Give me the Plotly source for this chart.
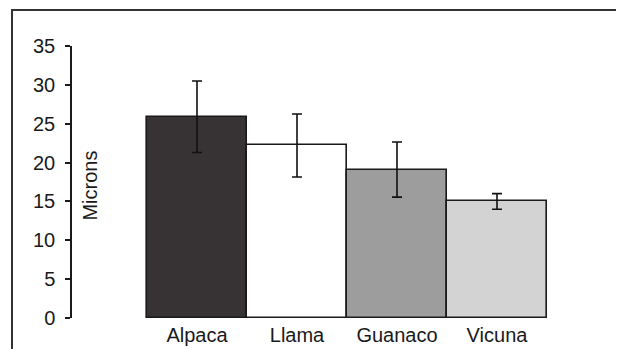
import plotly.graph_objects as go

categories = ["Alpaca", "Llama", "Guanaco", "Vicuna"]
means = [25.9, 22.2, 19.1, 15.0]
errors = [4.6, 4.05, 3.55, 1.0]
bar_colors = ["#373334", "#ffffff", "#9d9d9d", "#d3d3d3"]
y_ticks = [0, 5, 10, 15, 20, 25, 30, 35]

FONT = "Liberation Sans, Arial, Helvetica, sans-serif"

fig = go.Figure()
fig.add_trace(go.Bar(
    x=categories,
    y=means,
    marker=dict(color=bar_colors, line=dict(color="#1a1a1a", width=1.6)),
    error_y=dict(type="data", array=errors, visible=True,
                 color="#111111", thickness=1.6, width=5),
    width=1.0,
    showlegend=False,
    hoverinfo="skip",
))

# page body has an 8px default margin, so the figure is offset by 8px
fig.update_layout(
    width=624, height=349,
    margin=dict(l=64, r=85, t=38, b=39),
    paper_bgcolor="white", plot_bgcolor="white",
    font=dict(family=FONT, size=20, color="#1a1a1a"),
    bargap=0,
    xaxis=dict(range=[-1.25, 3.5], showline=False, showgrid=False,
               zeroline=False, ticks="", tickfont=dict(size=20),
               ticklabelstandoff=3, automargin=False, fixedrange=True),
    yaxis=dict(range=[0, 35], tickvals=y_ticks, showline=True,
               linecolor="#1a1a1a", linewidth=1.5, ticks="outside",
               ticklen=5, tickwidth=1.5, tickcolor="#1a1a1a",
               showgrid=False, zeroline=False, tickfont=dict(size=20),
               ticklabelstandoff=6, automargin=False, fixedrange=True),
    annotations=[dict(text="Microns", x=0.0379, y=0.487, xref="paper",
                      yref="paper", textangle=-90, showarrow=False,
                      font=dict(size=20), xanchor="center", yanchor="middle")],
    shapes=[dict(type="rect", xref="paper", yref="paper",
                 x0=-0.1263, x1=2.0, y0=-1.0, y1=1.1324,
                 line=dict(color="#333333", width=2), layer="below")],
)

fig.write_html("out.html")
